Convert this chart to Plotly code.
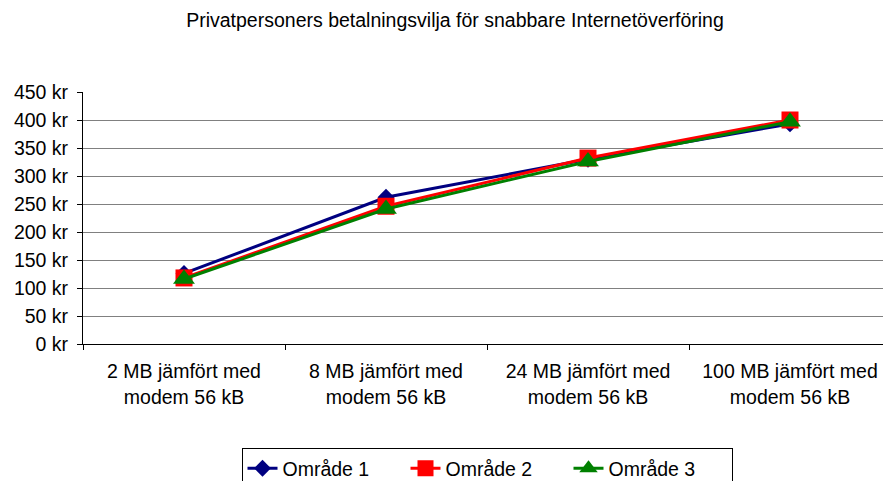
import plotly.graph_objects as go

categories = ["2 MB jämfört med<br>modem 56 kB", "8 MB jämfört med<br>modem 56 kB",
              "24 MB jämfört med<br>modem 56 kB", "100 MB jämfört med<br>modem 56 kB"]
omrade1 = [126, 262, 330, 393]
omrade2 = [118, 246, 332, 400]
omrade3 = [116, 241, 326, 397]

W, H = 883, 473  # page body has an 8px margin

fig = go.Figure()
fig.add_trace(go.Scatter(x=categories, y=omrade1, name="Område 1", mode="lines+markers",
                         line=dict(color="#000080", width=3),
                         marker=dict(symbol="diamond", size=13, color="#000080")))
fig.add_trace(go.Scatter(x=categories, y=omrade2, name="Område 2", mode="lines+markers",
                         line=dict(color="#FF0000", width=3),
                         marker=dict(symbol="square", size=17, color="#FF0000")))
fig.add_trace(go.Scatter(x=categories, y=omrade3, name="Område 3", mode="lines+markers",
                         line=dict(color="#008000", width=3),
                         marker=dict(symbol="triangle-up", size=19, color="#008000")))

fig.update_layout(
    width=W, height=H,
    paper_bgcolor="white", plot_bgcolor="white",
    margin=dict(l=75, r=0, t=84, b=137, autoexpand=False),
    font=dict(family="Liberation Sans, Arial, sans-serif", size=19.5, color="black"),
    title=dict(text="Privatpersoners betalningsvilja för snabbare Internetöverföring",
               x=447/W, xanchor="center", y=1-12/H, yanchor="middle",
               font=dict(size=19.5)),
    showlegend=True,
    legend=dict(orientation="h", x=0.5, xanchor="center", y=-0.413, yanchor="top",
                bordercolor="black", borderwidth=1, font=dict(size=19.5),
                entrywidth=118, entrywidthmode="pixels"),
    xaxis=dict(type="category", showline=True, linecolor="black", linewidth=1,
               ticks="outside", tickson="boundaries", ticklen=5, tickcolor="black",
               showgrid=False, range=[-0.5, 3.5], automargin=False,
               ticklabelstandoff=10),
    yaxis=dict(range=[0, 450], dtick=50, ticksuffix=" kr", showline=True,
               linecolor="black", linewidth=1, ticks="outside", ticklen=5,
               tickcolor="black", showgrid=True, gridcolor="#808080", gridwidth=1,
               zeroline=False, automargin=False, ticklabelstandoff=5),
)

fig.write_html("out.html")
